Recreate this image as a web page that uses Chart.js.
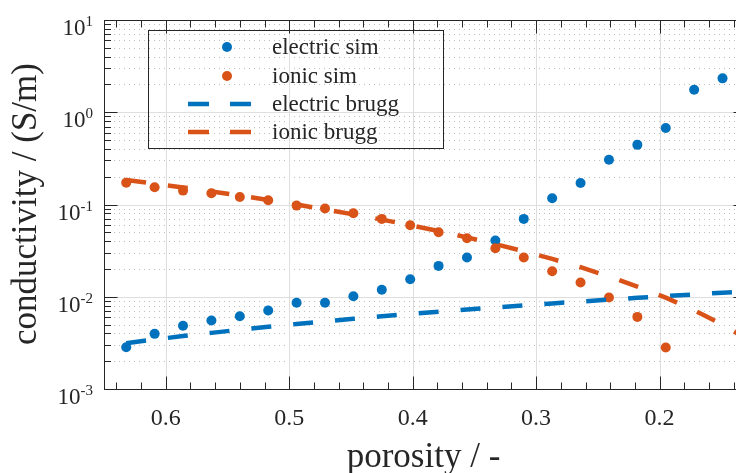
<!DOCTYPE html>
<html>
<head>
<meta charset="utf-8">
<script src="https://cdn.jsdelivr.net/npm/chart.js@4.4.1/dist/chart.umd.min.js"></script>
<style>
  html, body { margin: 0; padding: 0; background: #fff; overflow: hidden; }
  #wrap { width: 760px; height: 473px; }
</style>
</head>
<body>
<div id="wrap"><canvas id="chart" width="760" height="473"></canvas></div>
<script>
// porosity of each simulated structure
const porosity = [0.632, 0.609, 0.586, 0.563, 0.540, 0.517, 0.494, 0.471, 0.448, 0.425, 0.402,
                  0.379, 0.356, 0.333, 0.310, 0.287, 0.264, 0.241, 0.218, 0.195, 0.172, 0.149];
const electricSim = [0.00284, 0.00396, 0.00484, 0.00552, 0.00616, 0.0071, 0.0086, 0.0086, 0.01014, 0.0119, 0.0155,
                     0.0216, 0.0266, 0.0407, 0.0698, 0.117, 0.171, 0.306, 0.443, 0.676, 1.75, 2.33];
const ionicSim = [0.1726, 0.154, 0.1415, 0.1325, 0.1208, 0.1113, 0.0973, 0.0903, 0.0805, 0.0698,
                  0.0597, 0.0501, 0.0431, 0.0336, 0.0266, 0.0189, 0.01426, 0.0098, 0.00605, 0.00282];

// bruggeman curves
const bruggPorosity = [0.632, 0.609, 0.586, 0.563, 0.540, 0.517, 0.494, 0.471, 0.448, 0.425, 0.402,
                       0.379, 0.356, 0.333, 0.310, 0.287, 0.264, 0.241, 0.218, 0.195, 0.172, 0.149, 0.126];
const electricBrugg = [0.00314, 0.00344, 0.00375, 0.00406, 0.00439, 0.00472, 0.00506, 0.00541, 0.00577, 0.00613, 0.00651,
                       0.00689, 0.00727, 0.00766, 0.00806, 0.00847, 0.00888, 0.0093, 0.00973, 0.01016, 0.0106, 0.01105, 0.0115];
const ionicBrugg = [0.1847, 0.1684, 0.1531, 0.1385, 0.1248, 0.1119, 0.0999, 0.0886, 0.0782, 0.0686, 0.0597,
                    0.0515, 0.044, 0.0372, 0.0311, 0.0257, 0.0209, 0.0166, 0.0129, 0.00978, 0.00713, 0.00498, 0.00328];

// axis ticks
const xMajorTicks = [0.6, 0.5, 0.4, 0.3, 0.2];
const xTickLabels = ['0.6', '0.5', '0.4', '0.3', '0.2'];
const yMajorTicks = [10, 1, 0.1, 0.01, 0.001];
const yTickExponents = ['1', '0', '-1', '-2', '-3'];

const legendLabels = ['electric sim', 'ionic sim', 'electric brugg', 'ionic brugg'];

const BLUE = '#0072BD';
const ORANGE = '#D95319';
const AXIS = '#262626';
const SERIF = "'Liberation Serif', 'Times New Roman', serif";

function pairs(xs, ys) {
    return ys.map((y, i) => ({ x: xs[i], y: y }));
}

// MATLAB style axes: grid, box, inward ticks, labels, legend
const matlabAxes = {
    id: 'matlabAxes',
    beforeDatasetsDraw(chart) {
        const { ctx, chartArea: a, scales: { x, y } } = chart;
        ctx.save();
        // minor y grid (dotted)
        ctx.strokeStyle = '#bdbdbd';
        ctx.lineWidth = 1;
        ctx.setLineDash([1, 4]);
        for (let e = -3; e < 1; e++) {
            for (let k = 2; k <= 9; k++) {
                const py = Math.round(y.getPixelForValue(k * Math.pow(10, e))) + 0.5;
                ctx.beginPath();
                ctx.moveTo(a.left, py);
                ctx.lineTo(a.right, py);
                ctx.stroke();
            }
        }
        // major grid
        ctx.setLineDash([]);
        ctx.strokeStyle = '#dedede';
        xMajorTicks.forEach(v => {
            const px = Math.round(x.getPixelForValue(v)) + 0.5;
            ctx.beginPath();
            ctx.moveTo(px, a.top);
            ctx.lineTo(px, a.bottom);
            ctx.stroke();
        });
        yMajorTicks.forEach(v => {
            const py = Math.round(y.getPixelForValue(v)) + 0.5;
            ctx.beginPath();
            ctx.moveTo(a.left, py);
            ctx.lineTo(a.right, py);
            ctx.stroke();
        });
        ctx.restore();
    },
    afterDatasetsDraw(chart) {
        const { ctx, chartArea: a, scales: { x, y } } = chart;
        ctx.save();
        ctx.strokeStyle = AXIS;
        ctx.lineWidth = 1;
        const L = Math.round(a.left) + 0.5, R = Math.round(a.right) + 0.5;
        const T = Math.round(a.top) + 0.5, B = Math.round(a.bottom) + 0.5;
        ctx.strokeRect(L, T, R - L, B - T);

        // x ticks every 0.02, longer at 0.1
        ctx.beginPath();
        for (let i = 7; i <= 64; i++) {
            const v = i / 100;
            if (i % 2 !== 0) continue;
            const len = (i % 10 === 0) ? 13 : 7;
            const px = Math.round(x.getPixelForValue(v)) + 0.5;
            ctx.moveTo(px, B); ctx.lineTo(px, B - len);
            ctx.moveTo(px, T); ctx.lineTo(px, T + len);
        }
        // y ticks, decades and 2..9
        for (let e = -3; e <= 1; e++) {
            for (let k = 1; k <= 9; k++) {
                if (e === 1 && k > 1) break;
                const py = Math.round(y.getPixelForValue(k * Math.pow(10, e))) + 0.5;
                const len = k === 1 ? 13 : 6.5;
                ctx.moveTo(L, py); ctx.lineTo(L + len, py);
                ctx.moveTo(R, py); ctx.lineTo(R - len, py);
            }
        }
        ctx.stroke();

        // tick labels
        ctx.fillStyle = AXIS;
        ctx.font = '24px ' + SERIF;
        ctx.textAlign = 'center';
        ctx.textBaseline = 'alphabetic';
        xMajorTicks.forEach((v, i) => {
            ctx.fillText(xTickLabels[i], x.getPixelForValue(v), 425);
        });
        yMajorTicks.forEach((v, i) => {
            const py = y.getPixelForValue(v);
            ctx.font = '15px ' + SERIF;
            const expW = ctx.measureText(yTickExponents[i]).width;
            ctx.font = '23px ' + SERIF;
            const baseW = ctx.measureText('10').width;
            const right = 93;
            ctx.textAlign = 'left';
            ctx.fillText('10', right - expW - baseW, py + 15);
            ctx.font = '15px ' + SERIF;
            ctx.fillText(yTickExponents[i], right - expW, py + 6);
        });

        // axis titles
        ctx.font = '35px ' + SERIF;
        ctx.textAlign = 'center';
        ctx.fillText('porosity / -', (a.left + 745) / 2 - 1, 467);
        ctx.save();
        ctx.translate(36, 204);
        ctx.rotate(-Math.PI / 2);
        ctx.fillText('conductivity / (S/m)', 0, 0);
        ctx.restore();

        // legend (transparent box)
        ctx.strokeStyle = AXIS;
        ctx.lineWidth = 1;
        ctx.strokeRect(148.5, 30.5, 295, 118);
        const rows = [47, 76, 104, 132];
        ctx.font = '23px ' + SERIF;
        ctx.textAlign = 'left';
        ctx.textBaseline = 'middle';
        rows.forEach((ry, i) => {
            const col = (i % 2 === 0) ? BLUE : ORANGE;
            if (i < 2) {
                ctx.fillStyle = col;
                ctx.beginPath();
                ctx.arc(227, ry, 5, 0, Math.PI * 2);
                ctx.fill();
            } else {
                ctx.strokeStyle = col;
                ctx.lineWidth = 4.5;
                ctx.setLineDash([21, 21]);
                ctx.beginPath();
                ctx.moveTo(188, ry);
                ctx.lineTo(251, ry);
                ctx.stroke();
                ctx.setLineDash([]);
            }
            ctx.fillStyle = AXIS;
            ctx.fillText(legendLabels[i], 272, ry + 1);
        });
        ctx.restore();
    }
};

new Chart(document.getElementById('chart'), {
    type: 'scatter',
    data: {
        datasets: [{
            label: legendLabels[0],
            data: pairs(porosity, electricSim),
            showLine: false,
            pointRadius: 5,
            pointBorderWidth: 0,
            pointBackgroundColor: BLUE,
            order: 4
        }, {
            label: legendLabels[1],
            data: pairs(porosity, ionicSim),
            showLine: false,
            pointRadius: 5,
            pointBorderWidth: 0,
            pointBackgroundColor: ORANGE,
            order: 3
        }, {
            label: legendLabels[2],
            data: pairs(bruggPorosity, electricBrugg),
            showLine: true,
            pointRadius: 0,
            borderColor: BLUE,
            borderWidth: 4.5,
            borderDash: [20, 22],
            borderCapStyle: 'butt',
            tension: 0,
            order: 2
        }, {
            label: legendLabels[3],
            data: pairs(bruggPorosity, ionicBrugg),
            showLine: true,
            pointRadius: 0,
            borderColor: ORANGE,
            borderWidth: 4.5,
            borderDash: [20, 22],
            borderCapStyle: 'butt',
            tension: 0,
            order: 1
        }]
    },
    options: {
        responsive: false,
        animation: false,
        layout: { padding: { top: 20, right: 14, left: 0, bottom: 0 } },
        plugins: {
            legend: { display: false },
            tooltip: { enabled: false }
        },
        scales: {
            x: {
                type: 'linear',
                reverse: true,
                min: 0.13,
                max: 0.65,
                grid: { display: false },
                border: { display: false },
                ticks: { display: false },
                afterFit: s => { s.height = 84; }
            },
            y: {
                type: 'logarithmic',
                min: 0.001,
                max: 10,
                grid: { display: false },
                border: { display: false },
                ticks: { display: false },
                afterFit: s => { s.width = 104; }
            }
        }
    },
    plugins: [matlabAxes]
});
</script>
</body>
</html>
